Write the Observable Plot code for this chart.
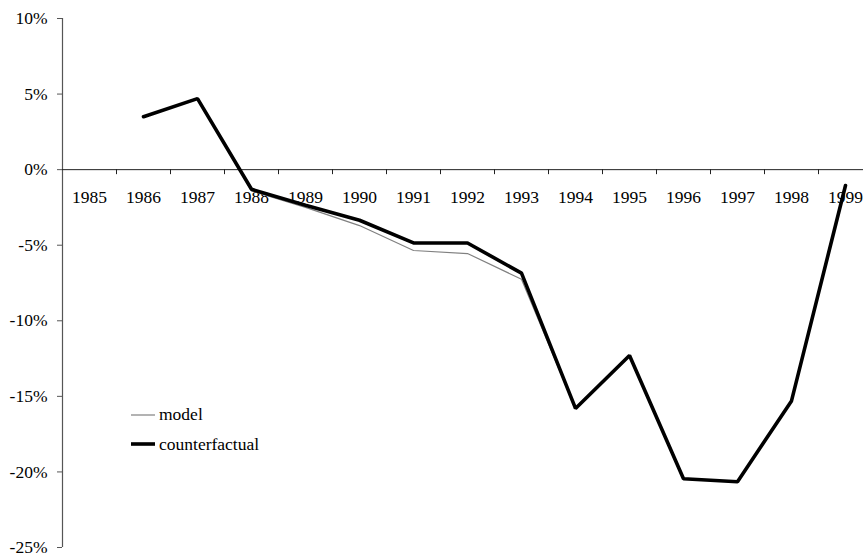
<!DOCTYPE html>
<html>
<head>
<meta charset="utf-8">
<script src="https://cdn.jsdelivr.net/npm/d3@7"></script>
<script src="https://cdn.jsdelivr.net/npm/@observablehq/plot@0.6"></script>
<style>
  html, body { margin: 0; padding: 0; background: #fff; overflow: hidden; }
  #wrap { position: relative; width: 863px; height: 558px; font-family: 'Liberation Serif', serif; }
  #legend { position: absolute; left: 131px; top: 400px; font-size: 17.5px; color: #000; line-height: 29.5px; font-family: 'Liberation Serif', serif; }
  #legend .row { display: flex; align-items: center; }
  #legend svg { margin-right: 4px; }
  svg.plot text { font-family: 'Liberation Serif', serif; }
</style>
</head>
<body>
<div id="wrap">
  <div id="chart"></div>
  <div id="legend">
    <div class="row"><svg width="24" height="10"><line x1="0" x2="24" y1="5" y2="5" stroke="#808080" stroke-width="1.2"/></svg>model</div>
    <div class="row"><svg width="24" height="10"><line x1="0" x2="24" y1="5" y2="5" stroke="#000" stroke-width="3.6"/></svg>counterfactual</div>
  </div>
</div>
<script>
const years = [1985, 1986, 1987, 1988, 1989, 1990, 1991, 1992, 1993, 1994, 1995, 1996, 1997, 1998, 1999];
const dataYears = [1986, 1987, 1988, 1989, 1990, 1991, 1992, 1993, 1994, 1995, 1996, 1997, 1998, 1999];
const modelValues = [3.5, 4.7, -1.4, -2.5, -3.7, -5.35, -5.55, -7.25, -15.8, -12.3, -20.45, -20.65, -15.3, -1.05];
const counterfactualValues = [3.5, 4.7, -1.3, -2.35, -3.35, -4.85, -4.85, -6.85, -15.8, -12.3, -20.45, -20.65, -15.3, -1.05];
const yTicks = [-25, -20, -15, -10, -5, 0, 5, 10];
const bandEdges = [1984.5, 1985.5, 1986.5, 1987.5, 1988.5, 1989.5, 1990.5, 1991.5, 1992.5, 1993.5, 1994.5, 1995.5, 1996.5, 1997.5, 1998.5, 1999.5];

const model = dataYears.map((y, i) => ({year: y, value: modelValues[i]}));
const counterfactual = dataYears.map((y, i) => ({year: y, value: counterfactualValues[i]}));

const chart = Plot.plot({
  width: 863,
  height: 558,
  marginLeft: 62,
  marginRight: 0,
  marginTop: 18,
  marginBottom: 11,
  style: {fontFamily: "'Liberation Serif', serif", fontSize: "17.5px", color: "#000", background: "#fff", overflow: "hidden"},
  x: {domain: [1984.5, 1999.5], range: [62, 872], axis: null},
  y: {domain: [-25, 10], axis: null},
  marks: [
    Plot.ruleX([1984.5], {stroke: "#555", strokeWidth: 1.2}),
    Plot.axisY({ticks: yTicks, tickSize: 5, tickPadding: 10, tickFormat: d => d + "%", stroke: "#555", fill: "#000", fontSize: 17.5, label: null}),
    Plot.ruleY([0], {stroke: "#222", strokeWidth: 1}),
    Plot.ruleX(bandEdges.slice(1), {x: d => d, y1: 0, y2: 0, insetBottom: -5, stroke: "#222", strokeWidth: 1}),
    Plot.text(years, {x: d => d, y: 0, dy: 28, text: d => String(d), fill: "#000", fontSize: 17.5}),
    Plot.line(model, {x: "year", y: "value", stroke: "#808080", strokeWidth: 1.2}),
    Plot.line(counterfactual, {x: "year", y: "value", stroke: "#000", strokeWidth: 3.6, strokeLinejoin: "miter"})
  ]
});
document.getElementById("chart").appendChild(chart);
</script>
</body>
</html>
